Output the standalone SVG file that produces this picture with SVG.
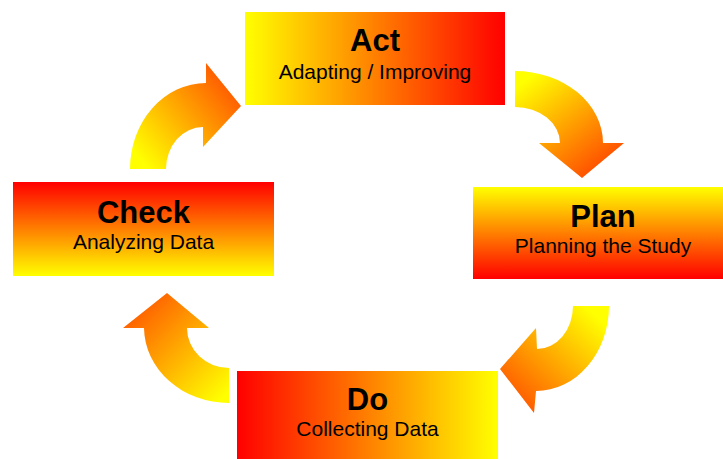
<svg xmlns="http://www.w3.org/2000/svg" width="723" height="459" viewBox="0 0 723 459">
<defs>
<linearGradient id="gYR" x1="0" y1="0" x2="1" y2="0"><stop offset="0" stop-color="#FFFF00"/><stop offset="1" stop-color="#FF0000"/></linearGradient>
<linearGradient id="gRY" x1="0" y1="0" x2="1" y2="0"><stop offset="0" stop-color="#FF0000"/><stop offset="1" stop-color="#FFFF00"/></linearGradient>
<linearGradient id="gRYv" x1="0" y1="0" x2="0" y2="1"><stop offset="0" stop-color="#FF0000"/><stop offset="1" stop-color="#FFFF00"/></linearGradient>
<linearGradient id="gYRv" x1="0" y1="0" x2="0" y2="1"><stop offset="0" stop-color="#FFFF00"/><stop offset="1" stop-color="#FF0000"/></linearGradient>
<linearGradient id="a1" gradientUnits="userSpaceOnUse" x1="145" y1="165" x2="235" y2="90"><stop offset="0" stop-color="#FFFF00"/><stop offset="1" stop-color="#FF5A00"/></linearGradient>
<linearGradient id="a2" gradientUnits="userSpaceOnUse" x1="520" y1="85" x2="590" y2="175"><stop offset="0" stop-color="#FFFF00"/><stop offset="1" stop-color="#FF5000"/></linearGradient>
<linearGradient id="a3" gradientUnits="userSpaceOnUse" x1="595" y1="315" x2="510" y2="405"><stop offset="0" stop-color="#FFFF00"/><stop offset="1" stop-color="#FF5000"/></linearGradient>
<linearGradient id="a4" gradientUnits="userSpaceOnUse" x1="225" y1="395" x2="135" y2="305"><stop offset="0" stop-color="#FFFF00"/><stop offset="1" stop-color="#FF5A00"/></linearGradient>
</defs>
<style>
.t{font-family:"Liberation Sans",Arial,sans-serif;font-weight:bold;font-size:31px;fill:#000;text-anchor:middle}
.s{font-family:"Liberation Sans",Arial,sans-serif;font-size:21px;fill:#000;text-anchor:middle}
</style>
<g id="connectors">
<path d="M130,169 A76,86 0 0 1 206,83 L206,63 L241,106 L203,147 L203,127 A37,42 0 0 0 166,169 Z" fill="url(#a1)"/>
<path d="M515,71 A88,72 0 0 1 603,143 L624,143 L582,178 L539,143 L560,143 A45,36 0 0 0 515,107 Z" fill="url(#a2)"/>
<path d="M573,306 L609,306 A73,85 0 0 1 536,391 L534,413 L500,369 L536,328 L537,349 A36,43 0 0 0 573,306 Z" fill="url(#a3)"/>
<path d="M229,403 A85,76 0 0 1 144,328 L123,328 L167,293 L209,328 L187,328 A42,40 0 0 0 229,368 Z" fill="url(#a4)"/>
</g>
<g id="act">
<rect x="245" y="12" width="260" height="93" fill="url(#gYR)"/>
<text class="t" x="375" y="51">Act</text>
<text class="s" x="375" y="79">Adapting / Improving</text>
</g>
<g id="plan">
<rect x="473" y="187" width="260" height="92" fill="url(#gYRv)"/>
<text class="t" x="603" y="227">Plan</text>
<text class="s" x="603" y="253">Planning the Study</text>
</g>
<g id="do">
<rect x="237" y="371" width="261" height="93" fill="url(#gRY)"/>
<text class="t" x="367.5" y="410">Do</text>
<text class="s" x="367.5" y="436">Collecting Data</text>
</g>
<g id="check">
<rect x="13" y="182" width="261" height="94" fill="url(#gRYv)"/>
<text class="t" x="143.5" y="223">Check</text>
<text class="s" x="143.5" y="249">Analyzing Data</text>
</g>
</svg>
